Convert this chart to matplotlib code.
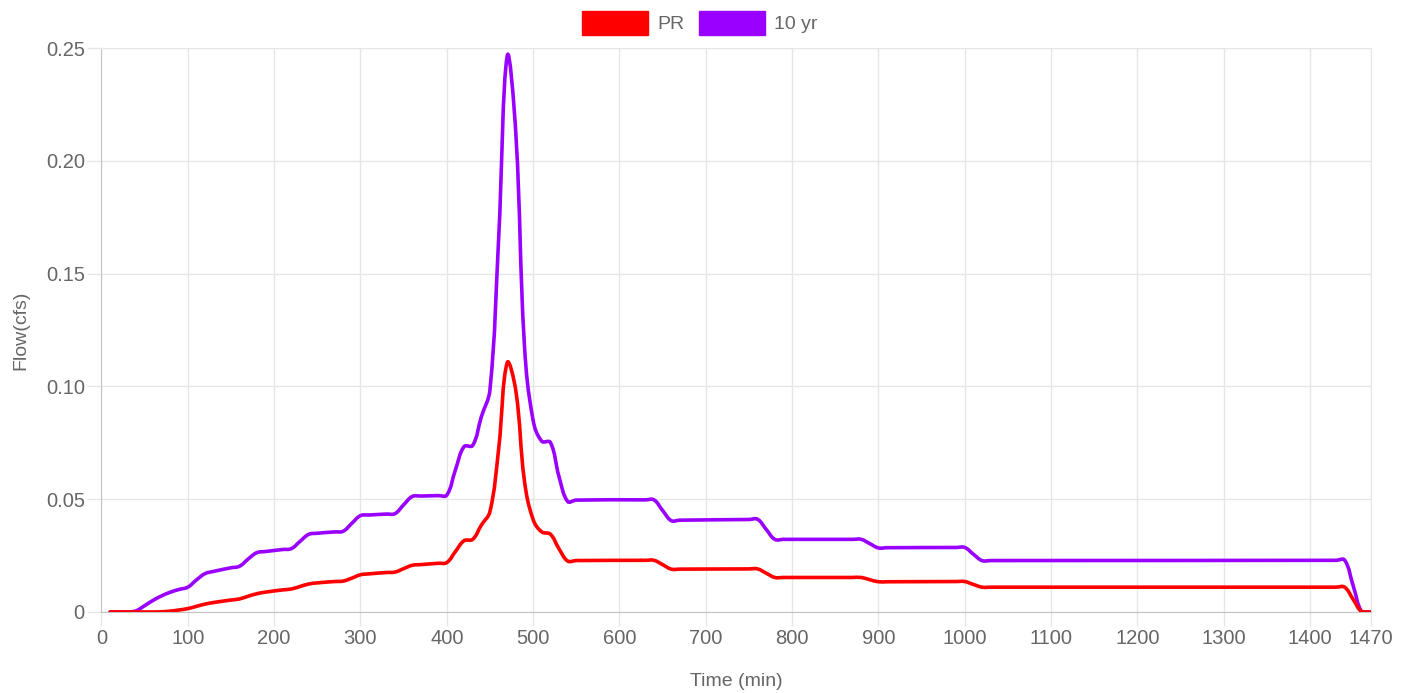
import numpy as np
import matplotlib
matplotlib.use("Agg")
import matplotlib.pyplot as plt
from matplotlib.path import Path
from matplotlib.patches import PathPatch, Patch

plt.rcParams["font.family"] = ["Liberation Sans", "DejaVu Sans"]

# time steps (min) and flows (cfs)
time_min = [10, 30, 40, 50, 60, 70, 80, 90, 100, 110, 120, 130, 150, 160, 170, 180,
            190, 210, 220, 230, 240, 250, 270, 280, 290, 300, 310, 330, 340, 350,
            360, 370, 390, 400, 410, 420, 430, 440, 450, 460, 470, 480, 490, 500,
            510, 520, 530, 540, 550, 630, 640, 650, 660, 670, 750, 760, 770, 780,
            790, 870, 880, 890, 900, 910, 990, 1000, 1010, 1020, 1030, 1430, 1440,
            1450, 1460, 1470]

pr_flow = [0, 0, 0, 0, 0, 0.0001, 0.0004, 0.0009, 0.0015, 0.0025, 0.0035, 0.0042,
           0.0053, 0.0058, 0.0070, 0.0081, 0.0088, 0.0098, 0.0102, 0.0113, 0.0124,
           0.0129, 0.0135, 0.0137, 0.0150, 0.0165, 0.0169, 0.0175, 0.0177, 0.0192,
           0.0207, 0.0210, 0.0216, 0.0219, 0.0268, 0.0316, 0.0322, 0.0385, 0.0445,
           0.0720, 0.1105, 0.0980, 0.0580, 0.0410, 0.0355, 0.0345, 0.0280, 0.0226,
           0.0228, 0.0229, 0.0229, 0.0210, 0.0190, 0.0190, 0.0191, 0.0191, 0.0172,
           0.0153, 0.0153, 0.0153, 0.0153, 0.0143, 0.0134, 0.0134, 0.0135, 0.0135,
           0.0122, 0.0110, 0.0110, 0.0110, 0.0110, 0.0055, 0, 0]

yr10_flow = [0, 0, 0.0005, 0.0028, 0.0052, 0.0072, 0.0088, 0.0100, 0.0110, 0.0142,
             0.0170, 0.0180, 0.0196, 0.0203, 0.0235, 0.0263, 0.0268, 0.0277, 0.0281,
             0.0313, 0.0344, 0.0349, 0.0355, 0.0358, 0.0393, 0.0427, 0.0430, 0.0434,
             0.0436, 0.0475, 0.0512, 0.0514, 0.0516, 0.0518, 0.0630, 0.0733, 0.0738,
             0.0865, 0.0985, 0.1650, 0.2465, 0.2120, 0.1180, 0.0850, 0.0757, 0.0752,
             0.0600, 0.0490, 0.0496, 0.0497, 0.0497, 0.0450, 0.0405, 0.0407, 0.0410,
             0.0411, 0.0366, 0.0322, 0.0322, 0.0322, 0.0322, 0.0303, 0.0284, 0.0285,
             0.0286, 0.0286, 0.0256, 0.0228, 0.0228, 0.0229, 0.0230, 0.0115, 0, 0]

x_ticks = [0, 100, 200, 300, 400, 500, 600, 700, 800, 900, 1000, 1100, 1200, 1300, 1400, 1470]
y_ticks = [0, 0.05, 0.10, 0.15, 0.20, 0.25]
y_labels = ["0", "0.05", "0.10", "0.15", "0.20", "0.25"]

TEXT = "#666666"
GRID = "#e6e6e6"


def smooth_line(ax, xs, ys, color, lw, z, tension=0.4):
    # bezier curve through the points, chart.js style
    pts = ax.transData.transform(np.column_stack([xs, ys]))
    n = len(pts)
    prev_cp, next_cp = [], []
    for i in range(n):
        p0 = pts[max(i - 1, 0)]
        p1 = pts[i]
        p2 = pts[min(i + 1, n - 1)]
        d01 = np.hypot(*(p1 - p0))
        d12 = np.hypot(*(p2 - p1))
        tot = d01 + d12
        s01 = d01 / tot if tot else 0
        s12 = d12 / tot if tot else 0
        prev_cp.append(p1 - tension * s01 * (p2 - p0))
        next_cp.append(p1 + tension * s12 * (p2 - p0))
    ybot = ax.transData.transform((0, 0))[1]
    verts = [pts[0]]
    codes = [Path.MOVETO]
    for i in range(n - 1):
        a = next_cp[i].copy()
        b = prev_cp[i + 1].copy()
        a[1] = max(a[1], ybot)
        b[1] = max(b[1], ybot)
        verts += [a, b, pts[i + 1]]
        codes += [Path.CURVE4] * 3
    verts = ax.transData.inverted().transform(np.array(verts))
    patch = PathPatch(Path(verts, codes), fill=False, edgecolor=color, lw=lw,
                      capstyle="round", joinstyle="round", zorder=z)
    ax.add_patch(patch)


fig = plt.figure(figsize=(14.09, 6.93), dpi=100)
ax = fig.add_axes([0.072, 0.1169, 0.9007, 0.8138])
ax.set_xlim(0, 1470)
ax.set_ylim(0, 0.25)

ax.set_xticks(x_ticks)
ax.set_yticks(y_ticks)
ax.set_yticklabels(y_labels)
ax.grid(True, color=GRID, lw=1)
ax.set_axisbelow(True)
ax.tick_params(length=10, width=1, color=GRID, labelcolor=TEXT, labelsize=14.5, pad=2)
for side in ["top", "right"]:
    ax.spines[side].set_color(GRID)
for side in ["left", "bottom"]:
    ax.spines[side].set_color("#c4c4c4")

smooth_line(ax, time_min, yr10_flow, "#9900ff", 2.6, 3)
smooth_line(ax, time_min, pr_flow, "#ff0000", 2.6, 4)

ax.set_xlabel("Time (min)", color=TEXT, fontsize=14, labelpad=18)
ax.set_ylabel("Flow(cfs)", color=TEXT, fontsize=14, labelpad=12)

handles = [Patch(facecolor="#ff0000", edgecolor="#ff0000"),
           Patch(facecolor="#9900ff", edgecolor="#9900ff")]
leg = fig.legend(handles, ["PR", "10 yr"], loc="center", bbox_to_anchor=(0.4965, 0.9668),
                 ncol=2, frameon=False, fontsize=14, handlelength=3.4, handleheight=1.45,
                 handletextpad=0.45, columnspacing=0.75)
for t in leg.get_texts():
    t.set_color(TEXT)

fig.savefig("out.png", dpi=100)
